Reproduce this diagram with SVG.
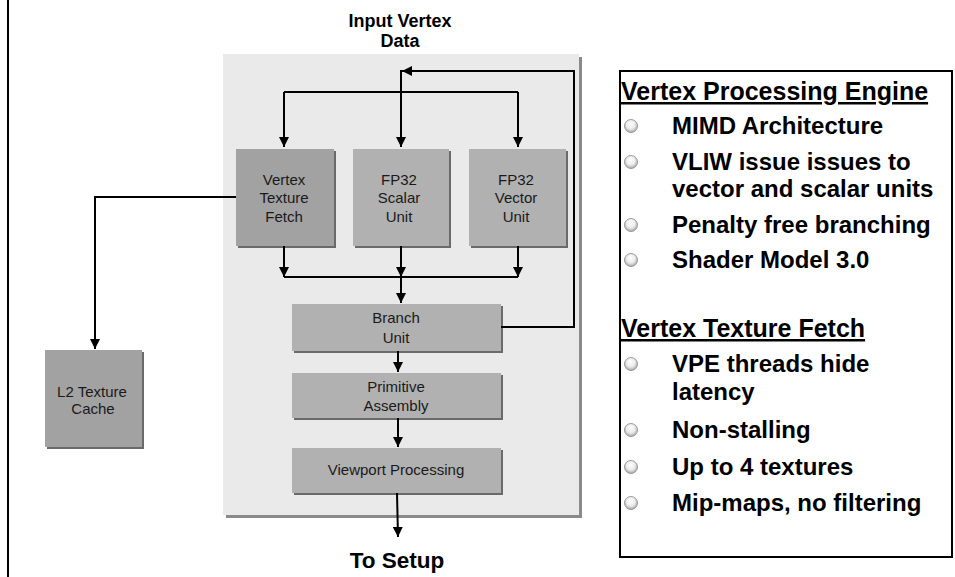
<svg xmlns="http://www.w3.org/2000/svg" width="955" height="577" viewBox="0 0 955 577">
<defs>
<style>
text{font-family:"Liberation Sans",Arial,sans-serif;}
.bt{font-size:15px;fill:#1a1a1a;text-anchor:middle;}
.hd{font-size:25px;font-weight:bold;fill:#000;text-decoration:underline;}
.bl{font-size:24px;font-weight:bold;fill:#000;}
.ln{fill:none;stroke:#000;stroke-width:2;}
.box{fill:#b1b1b1;}
.dbox{fill:#a2a2a2;}
.shd{fill:#6a6a6a;}
.bul{fill:url(#sph);stroke:#8a8a8a;stroke-width:0.8;}
</style>
<marker id="ah" viewBox="0 0 10 10" refX="10" refY="5" markerWidth="10" markerHeight="10" markerUnits="userSpaceOnUse" orient="auto">
<path d="M0,0 L10,5 L0,10 z" fill="#000"/>
</marker>
<radialGradient id="sph" cx="0.5" cy="0.45" r="0.6" fx="0.45" fy="0.3">
<stop offset="0" stop-color="#ffffff"/>
<stop offset="0.55" stop-color="#ececec"/>
<stop offset="0.85" stop-color="#b5b5b5"/>
<stop offset="1" stop-color="#7d7d7d"/>
</radialGradient>
</defs>
<rect width="955" height="577" fill="#fff"/>
<line x1="8" y1="0" x2="8" y2="577" stroke="#000" stroke-width="2"/>

<g id="title">
<text x="400" y="27" font-size="18" font-weight="bold" text-anchor="middle">Input Vertex</text>
<text x="400" y="47" font-size="18" font-weight="bold" text-anchor="middle">Data</text>
</g>

<g id="vpe-panel">
<rect x="226" y="57" width="356" height="461" fill="#8a8a8a"/>
<rect x="223" y="54" width="356" height="461" fill="#eaeaea"/>
</g>

<g id="vtf">
<rect class="shd" x="238" y="151" width="98" height="97"/>
<rect class="dbox" x="236" y="149" width="98" height="97"/>
<text class="bt" x="284" y="185">Vertex</text>
<text class="bt" x="284" y="203">Texture</text>
<text class="bt" x="284" y="222">Fetch</text>
</g>
<g id="scalar">
<rect class="shd" x="355" y="151" width="96" height="97"/>
<rect class="box" x="353" y="149" width="96" height="97"/>
<text class="bt" x="399" y="185">FP32</text>
<text class="bt" x="399" y="203">Scalar</text>
<text class="bt" x="399" y="222">Unit</text>
</g>
<g id="vector">
<rect class="shd" x="471" y="151" width="97" height="97"/>
<rect class="box" x="469" y="149" width="97" height="97"/>
<text class="bt" x="516" y="185">FP32</text>
<text class="bt" x="516" y="203">Vector</text>
<text class="bt" x="516" y="222">Unit</text>
</g>
<g id="branch">
<rect class="shd" x="294" y="306" width="209" height="47"/>
<rect class="box" x="292" y="304" width="209" height="47"/>
<text class="bt" x="396" y="323">Branch</text>
<text class="bt" x="396" y="343">Unit</text>
</g>
<g id="primitive">
<rect class="shd" x="294" y="375" width="209" height="45"/>
<rect class="box" x="292" y="373" width="209" height="45"/>
<text class="bt" x="396" y="392">Primitive</text>
<text class="bt" x="396" y="411">Assembly</text>
</g>
<g id="viewport">
<rect class="shd" x="294" y="450" width="209" height="45"/>
<rect class="box" x="292" y="448" width="209" height="45"/>
<text class="bt" x="396" y="475">Viewport Processing</text>
</g>
<g id="l2">
<rect class="shd" x="47" y="352" width="97" height="97"/>
<rect class="dbox" x="45" y="350" width="97" height="97"/>
<text class="bt" x="92" y="397">L2 Texture</text>
<text class="bt" x="93" y="414">Cache</text>
</g>

<g id="connectors">
<path class="ln" d="M284,92 H518"/>
<path class="ln" d="M284,92 V147" marker-end="url(#ah)"/>
<path class="ln" d="M401,70 V147" marker-end="url(#ah)"/>
<path class="ln" d="M518,92 V147" marker-end="url(#ah)"/>
<path class="ln" d="M501,327 H574 V71 H402" marker-end="url(#ah)"/>
<path class="ln" d="M284,246 V277" marker-end="url(#ah)"/>
<path class="ln" d="M401,246 V277" marker-end="url(#ah)"/>
<path class="ln" d="M518,246 V277" marker-end="url(#ah)"/>
<path class="ln" d="M284,277 H518"/>
<path class="ln" d="M401,277 V303" marker-end="url(#ah)"/>
<path class="ln" d="M398,351 V372" marker-end="url(#ah)"/>
<path class="ln" d="M398,418 V447" marker-end="url(#ah)"/>
<path class="ln" d="M397,493 L398,537" marker-end="url(#ah)"/>
<path class="ln" d="M236,197 H95 V349" marker-end="url(#ah)"/>
</g>

<g id="to-setup">
<text x="397" y="568" font-size="22.5" font-weight="bold" text-anchor="middle">To Setup</text>
</g>

<g id="info-panel">
<rect x="620" y="71" width="332" height="486" fill="#fff" stroke="#000" stroke-width="2"/>
<text class="hd" x="621" y="100">Vertex Processing Engine</text>
<circle class="bul" cx="631" cy="126" r="6.5"/>
<text class="bl" x="672" y="134">MIMD Architecture</text>
<circle class="bul" cx="631" cy="162" r="6.5"/>
<text class="bl" x="672" y="170">VLIW issue issues to</text>
<text class="bl" x="672" y="197">vector and scalar units</text>
<circle class="bul" cx="631" cy="225" r="6.5"/>
<text class="bl" x="672" y="233">Penalty free branching</text>
<circle class="bul" cx="631" cy="260" r="6.5"/>
<text class="bl" x="672" y="268">Shader Model 3.0</text>
<text class="hd" x="621" y="337">Vertex Texture Fetch</text>
<circle class="bul" cx="631" cy="364" r="6.5"/>
<text class="bl" x="672" y="372">VPE threads hide</text>
<text class="bl" x="672" y="400">latency</text>
<circle class="bul" cx="631" cy="430" r="6.5"/>
<text class="bl" x="672" y="438">Non-stalling</text>
<circle class="bul" cx="631" cy="467" r="6.5"/>
<text class="bl" x="672" y="475">Up to 4 textures</text>
<circle class="bul" cx="631" cy="503" r="6.5"/>
<text class="bl" x="672" y="511">Mip-maps, no filtering</text>
</g>
</svg>
